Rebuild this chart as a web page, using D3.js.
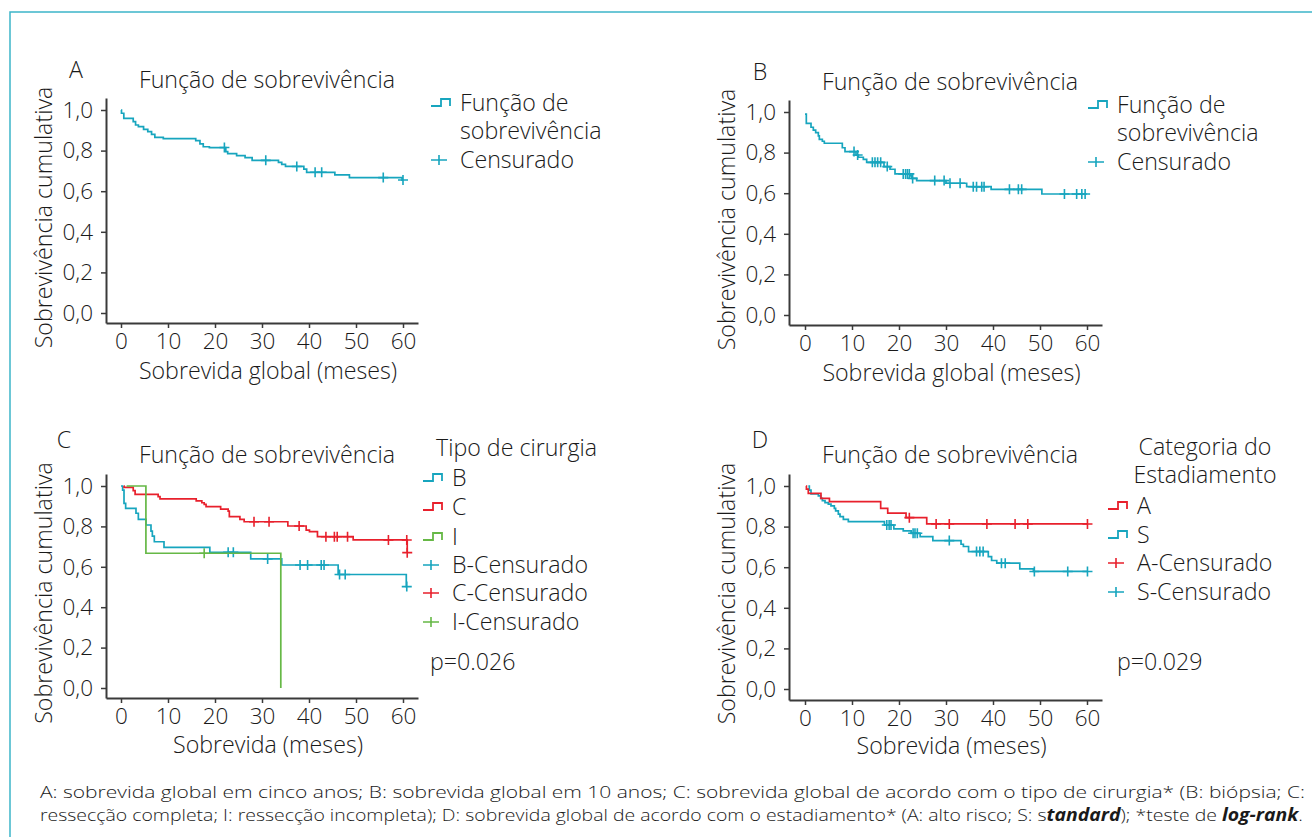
<!DOCTYPE html>
<html>
<head>
<meta charset="utf-8">
<script src="https://cdn.jsdelivr.net/npm/d3@7"></script>
<style>
  html, body { margin: 0; padding: 0; background: #fff; }
  svg { display: block; font-family: "Open Sans", "Noto Sans", sans-serif; font-weight: 300; }
</style>
</head>
<body>
<svg id="chart" width="1312" height="837"></svg>
<script>
// ---------- data ----------
const xTicks = [0, 10, 20, 30, 40, 50, 60];
const yTicks = [0, 0.2, 0.4, 0.6, 0.8, 1.0];

// Panel A
const aTimes = [0, 0.1, 0.6, 2.6, 3.1, 3.7, 4.8, 5.7, 6.5, 7.2, 9.0, 15.9, 16.8, 17.5, 18.8, 22.3, 22.7, 24.6, 26.4, 27.9, 33.5, 34.2, 35.0, 38.9, 39.5, 45.5, 48.6, 59.8];
const aSurv = [1.0, 0.984, 0.959, 0.943, 0.926, 0.918, 0.905, 0.893, 0.880, 0.865, 0.859, 0.849, 0.833, 0.819, 0.815, 0.795, 0.785, 0.775, 0.765, 0.752, 0.742, 0.732, 0.722, 0.709, 0.693, 0.680, 0.667, 0.655];
const aCensored = [22.0, 30.8, 37.4, 41.3, 42.7, 55.8, 60.0];

// Panel B
const bTimes = [0, 0.28, 1.28, 1.77, 2.27, 2.84, 3.05, 3.69, 4.11, 7.94, 8.51, 10.85, 11.35, 12.41, 13.12, 16.81, 18.09, 19.15, 22.4, 22.7, 23.76, 30.0, 34.4, 39.6, 50.4];
const bSurv = [0.99, 0.944, 0.925, 0.911, 0.898, 0.882, 0.865, 0.856, 0.846, 0.824, 0.805, 0.788, 0.777, 0.767, 0.752, 0.731, 0.718, 0.695, 0.685, 0.673, 0.662, 0.649, 0.632, 0.619, 0.596];
const bCensored = [10.43, 11.2, 14.33, 14.89, 15.46, 16.1, 17.5, 20.9, 21.4, 21.8, 22.2, 22.9, 27.6, 29.6, 30.85, 33.0, 35.8, 36.5, 37.6, 38.1, 43.5, 45.4, 46.1, 55.2, 57.8, 58.9, 59.6];

// Panel C (Tipo de cirurgia)
const cBTimes = [0, 0.35, 0.64, 0.99, 3.19, 3.69, 5.32, 6.38, 6.67, 7.09, 9.15, 18.9, 27.6, 34.2, 46.2, 60.7];
const cBSurv = [1.0, 0.98, 0.914, 0.889, 0.865, 0.835, 0.807, 0.777, 0.752, 0.724, 0.696, 0.672, 0.639, 0.609, 0.562, 0.502];
const cBCensored = [22.8, 23.9, 31.2, 38.1, 39.7, 42.6, 43.2, 46.5, 47.7, 60.8];

const cCTimes = [0.6, 0.65, 2.6, 3.0, 7.9, 8.3, 16.0, 17.2, 17.7, 18.1, 21.2, 22.8, 23.05, 25.3, 26.2, 35.5, 39.4, 40.1, 41.8, 49.4, 60.9];
const cCSurv = [1.0, 0.993, 0.977, 0.959, 0.947, 0.936, 0.926, 0.917, 0.909, 0.898, 0.886, 0.876, 0.848, 0.835, 0.823, 0.802, 0.782, 0.774, 0.749, 0.733, 0.670];
const cCCensored = [28.3, 31.5, 37.9, 43.6, 45.4, 46.0, 48.2, 56.9, 60.8, 60.9];

const cITimes = [1.2, 5.3, 34.0];
const cISurv = [1.0, 0.667, 0.0];
const cICensored = [17.7];

// Panel D (Categoria do Estadiamento)
const dATimes = [0.2, 0.3, 0.7, 3.4, 5.2, 16.1, 17.6, 21.5, 25.9];
const dASurv = [1.0, 0.985, 0.964, 0.939, 0.923, 0.890, 0.866, 0.844, 0.813];
const dACensored = [22.2, 27.9, 30.7, 38.7, 44.7, 47.4, 60.1];

const dSTimes = [0.71, 0.92, 1.28, 2.84, 3.33, 3.69, 4.26, 4.96, 5.53, 6.24, 6.52, 7.09, 7.45, 8.16, 9.22, 16.9, 18.9, 20.9, 22.6, 24.5, 27.2, 33.2, 33.7, 34.8, 39.0, 39.7, 40.8, 45.7, 48.6];
const dSSurv = [1.0, 0.980, 0.961, 0.951, 0.939, 0.928, 0.918, 0.911, 0.902, 0.890, 0.877, 0.861, 0.849, 0.836, 0.825, 0.808, 0.789, 0.779, 0.767, 0.751, 0.731, 0.713, 0.702, 0.677, 0.652, 0.633, 0.620, 0.592, 0.579];
const dSCensored = [17.4, 17.9, 18.3, 23.0, 23.4, 23.9, 30.7, 36.5, 37.2, 37.9, 41.8, 42.6, 48.8, 55.9, 60.1];

// labels
const panelTitle = "Função de sobrevivência";
const yTitle = "Sobrevivência cumulativa";
const legendSingle = ["Função de", "sobrevivência", "Censurado"];
const legendCTitle = "Tipo de cirurgia";
const legendCItems = ["B", "C", "I", "B-Censurado", "C-Censurado", "I-Censurado"];
const legendDTitle = ["Categoria do", "Estadiamento"];
const legendDItems = ["A", "S", "A-Censurado", "S-Censurado"];
const pValueC = "p=0.026";
const pValueD = "p=0.029";

// ---------- style ----------
const TEAL = "#17a5be", RED = "#e8202c", GREEN = "#66b846";
const AXIS = "#3a3a3a", TEXT = "#1a1a1a";
const FONT = 23.2;
const TICKFONT = 22.5;

const svg = d3.select("#chart");
svg.append("rect").attr("width", 1312).attr("height", 837).attr("fill", "#fff");
// frame
svg.append("rect").attr("x", 10).attr("y", 12).attr("width", 1330).attr("height", 860)
  .attr("fill", "none").attr("stroke", "#3db5c9").attr("stroke-width", 1.5);

function stepPoints(times, surv, censored) {
  const pts = [];
  for (let i = 0; i < times.length; i++) {
    if (i > 0) pts.push([times[i], surv[i - 1]]);
    pts.push([times[i], surv[i]]);
  }
  const tEnd = d3.max(censored.concat(times));
  pts.push([tEnd, surv[surv.length - 1]]);
  return pts;
}
function survAt(times, surv, t) {
  let s = surv[0];
  for (let i = 0; i < times.length; i++) if (times[i] <= t) s = surv[i];
  return s;
}

function panel(p) {
  const g = svg.append("g");
  const tPerPx = 60 / (p.x60 - p.x0);
  const x = d3.scaleLinear()
    .domain([(p.axisX - p.x0) * tPerPx, (p.xRight - p.x0) * tPerPx])
    .range([p.axisX, p.xRight]);
  const sPerPx = 1 / (p.y0 - p.y1);
  const y = d3.scaleLinear()
    .domain([(p.y0 - p.axisY) * sPerPx, (p.y0 - p.yTop) * sPerPx])
    .range([p.axisY, p.yTop]);

  const xAxis = d3.axisBottom(x).tickValues(xTicks).tickSize(5).tickSizeOuter(0).tickPadding(3);
  const yAxis = d3.axisLeft(y).tickValues(yTicks).tickSize(5).tickSizeOuter(0).tickPadding(8)
    .tickFormat(d => d3.format(".1f")(d).replace(".", ","));

  const gx = g.append("g").attr("transform", `translate(0,${p.axisY})`).call(xAxis);
  const gy = g.append("g").attr("transform", `translate(${p.axisX},0)`).call(yAxis);
  [gx, gy].forEach(a => {
    a.selectAll("path.domain").attr("stroke", AXIS).attr("stroke-width", 2);
    a.selectAll(".tick line").attr("stroke", AXIS).attr("stroke-width", 1.5);
    a.selectAll(".tick text").attr("fill", TEXT).style("font-size", TICKFONT + "px")
      .style("font-family", '"Open Sans", sans-serif').style("font-weight", 300);
  });
  gx.selectAll(".tick text").attr("dy", "0.82em");

  // axis titles
  g.append("text").attr("x", (p.axisX + p.xRight) / 2 + 6).attr("y", p.axisY + p.xTitleDy)
    .attr("text-anchor", "middle").attr("fill", TEXT).style("font-size", FONT + "px").text(p.xTitle);
  g.append("text").attr("transform", `translate(${p.yTitleX},${(p.y0 + p.y1) / 2 + 6}) rotate(-90)`)
    .attr("text-anchor", "middle").attr("fill", TEXT).style("font-size", FONT + "px").text(yTitle);

  // panel letter & title
  g.append("text").attr("x", p.letterX).attr("y", p.letterY).attr("text-anchor", "middle")
    .attr("fill", TEXT).style("font-size", FONT + "px").text(p.letter);
  g.append("text").attr("x", p.titleX).attr("y", p.titleY)
    .attr("fill", TEXT).style("font-size", FONT + "px").text(panelTitle);

  const line = d3.line().x(d => x(d[0])).y(d => y(d[1]));
  p.series.forEach(s => {
    g.append("path").datum(stepPoints(s.times, s.surv, s.censored))
      .attr("d", line).attr("fill", "none").attr("stroke", s.color)
      .attr("stroke-width", 1.7).attr("stroke-linejoin", "miter");
    g.selectAll(null).data(s.censored).enter().append("path")
      .attr("d", t => {
        const cx = x(t), cy = y(survAt(s.times, s.surv, t));
        return `M${cx - 5},${cy}H${cx + 5}M${cx},${cy - 5}V${cy + 5}`;
      })
      .attr("stroke", s.color).attr("stroke-width", 1.6);
  });
  return g;
}

function stepIcon(g, x0, yc, color) {
  g.append("path").attr("d", `M${x0},${yc + 3}H${x0 + 10}V${yc - 4}H${x0 + 19}V${yc + 3}`)
    .attr("fill", "none").attr("stroke", color).attr("stroke-width", 1.8);
}
function plusIcon(g, x0, yc, color) {
  g.append("path").attr("d", `M${x0},${yc}H${x0 + 16}M${x0 + 8},${yc - 5}V${yc + 5}`)
    .attr("fill", "none").attr("stroke", color).attr("stroke-width", 1.6);
}
function legendText(g, x, yc, txt) {
  g.append("text").attr("x", x).attr("y", yc).attr("dy", "0.35em")
    .attr("fill", TEXT).style("font-size", FONT + "px").text(txt);
}

// ---------- panels ----------
const gA = panel({
  x0: 121, x60: 403, y1: 110, y0: 313, axisX: 106, axisY: 323, yTop: 98, xRight: 418,
  xTitle: "Sobrevida global (meses)", xTitleDy: 56, yTitleX: 52,
  letter: "A", letterX: 76, letterY: 78, titleX: 139, titleY: 88,
  series: [{ times: aTimes, surv: aSurv, censored: aCensored, color: TEAL }]
});
stepIcon(gA, 431, 103, TEAL);
legendText(gA, 460, 103, legendSingle[0]);
legendText(gA, 460, 131, legendSingle[1]);
plusIcon(gA, 431, 160, TEAL);
legendText(gA, 460, 160, legendSingle[2]);

const gB = panel({
  x0: 805, x60: 1087, y1: 112, y0: 315, axisX: 789, axisY: 325, yTop: 100, xRight: 1102,
  xTitle: "Sobrevida global (meses)", xTitleDy: 56, yTitleX: 735,
  letter: "B", letterX: 760, letterY: 80, titleX: 822, titleY: 90,
  series: [{ times: bTimes, surv: bSurv, censored: bCensored, color: TEAL }]
});
stepIcon(gB, 1088, 105, TEAL);
legendText(gB, 1117, 105, legendSingle[0]);
legendText(gB, 1117, 133, legendSingle[1]);
plusIcon(gB, 1088, 162, TEAL);
legendText(gB, 1117, 162, legendSingle[2]);

const gC = panel({
  x0: 121, x60: 403, y1: 486, y0: 688, axisX: 106, axisY: 698, yTop: 474, xRight: 418,
  xTitle: "Sobrevida (meses)", xTitleDy: 55, yTitleX: 52,
  letter: "C", letterX: 64, letterY: 448, titleX: 139, titleY: 463,
  series: [
    { times: cBTimes, surv: cBSurv, censored: cBCensored, color: TEAL },
    { times: cCTimes, surv: cCSurv, censored: cCCensored, color: RED },
    { times: cITimes, surv: cISurv, censored: cICensored, color: GREEN }
  ]
});
legendText(gC, 436, 448, legendCTitle);
const cColors = [TEAL, RED, GREEN, TEAL, RED, GREEN];
const cY = [478, 507, 537, 565, 593, 622];
legendCItems.forEach((txt, i) => {
  if (i < 3) stepIcon(gC, 423, cY[i], cColors[i]); else plusIcon(gC, 423, cY[i], cColors[i]);
  legendText(gC, 452, cY[i], txt);
});
legendText(gC, 430, 662, pValueC);

const gD = panel({
  x0: 805, x60: 1087, y1: 486, y0: 689, axisX: 789, axisY: 700, yTop: 474, xRight: 1102,
  xTitle: "Sobrevida (meses)", xTitleDy: 54, yTitleX: 735,
  letter: "D", letterX: 760, letterY: 448, titleX: 822, titleY: 463,
  series: [
    { times: dSTimes, surv: dSSurv, censored: dSCensored, color: TEAL },
    { times: dATimes, surv: dASurv, censored: dACensored, color: RED }
  ]
});
gD.append("text").attr("x", 1205).attr("y", 447).attr("dy", "0.35em").attr("text-anchor", "middle")
  .attr("fill", TEXT).style("font-size", FONT + "px").text(legendDTitle[0]);
gD.append("text").attr("x", 1205).attr("y", 475).attr("dy", "0.35em").attr("text-anchor", "middle")
  .attr("fill", TEXT).style("font-size", FONT + "px").text(legendDTitle[1]);
const dColors = [RED, TEAL, RED, TEAL];
const dY = [506, 535, 563, 592];
legendDItems.forEach((txt, i) => {
  if (i < 2) stepIcon(gD, 1108, dY[i], dColors[i]); else plusIcon(gD, 1108, dY[i], dColors[i]);
  legendText(gD, 1137, dY[i], txt);
});
legendText(gD, 1117, 662, pValueD);

// ---------- footnote ----------
const foot1 = svg.append("text").attr("x", 40).attr("y", 798).attr("fill", TEXT)
  .style("font-size", "17px").attr("textLength", 1265).attr("lengthAdjust", "spacingAndGlyphs")
  .text("A: sobrevida global em cinco anos; B: sobrevida global em 10 anos; C: sobrevida global de acordo com o tipo de cirurgia* (B: biópsia; C:");
const foot2 = svg.append("text").attr("x", 40).attr("y", 821).attr("fill", TEXT)
  .style("font-size", "17px").attr("textLength", 1263).attr("lengthAdjust", "spacingAndGlyphs");
foot2.append("tspan").text("ressecção completa; I: ressecção incompleta); D: sobrevida global de acordo com o estadiamento* (A: alto risco; S: s");
foot2.append("tspan").style("font-style", "italic").style("font-weight", "bold").text("tandard");
foot2.append("tspan").text("); *teste de ");
foot2.append("tspan").style("font-style", "italic").style("font-weight", "bold").text("log-rank");
foot2.append("tspan").text(".");
</script>
</body>
</html>
